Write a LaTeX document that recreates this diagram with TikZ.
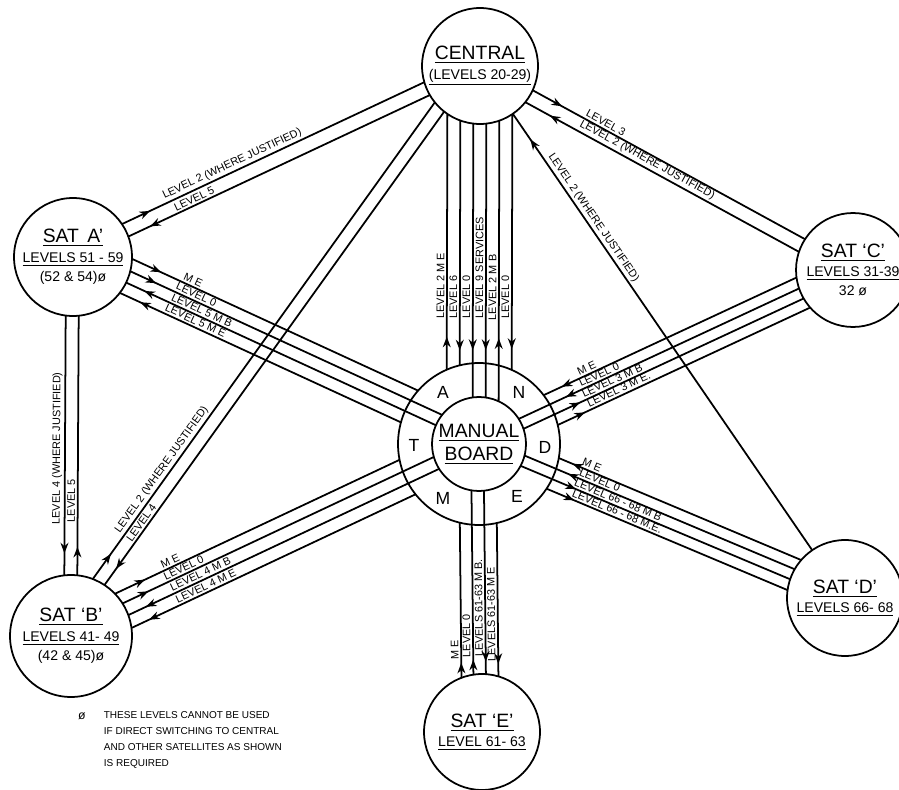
\documentclass[tikz,border=0pt]{standalone}
\usepackage{fontspec}
\setmainfont{Liberation Sans}
\usetikzlibrary{calc,arrows.meta,decorations.markings}

\newcommand{\labfont}{\fontsize{6.2}{7}\selectfont}
\newcommand{\namefont}{\fontsize{11}{13}\selectfont}
\newcommand{\levfont}{\fontsize{8}{11}\selectfont}

% parallel wire between two circles: [opts]{from}{r from}{to}{r to}{offset}{label}
\newcommand{\wire}[7][]{%
  \draw[#1] ($(#2)!{sqrt((#3)^2-(#6)^2)*0.02cm}!(#4)!{(#6)*0.02cm}!90:(#4)$)
    -- #7 ($(#4)!{sqrt((#5)^2-(#6)^2)*0.02cm}!(#2)!{-(#6)*0.02cm}!90:(#2)$);}

\tikzset{
  sat/.style={draw, circle, inner sep=0pt, align=center, font=\levfont},
  ring/.style={font=\fontsize{10}{12}\selectfont, inner sep=0pt},
}

\begin{document}
\begin{tikzpicture}[x=0.02cm, y=-0.02cm, line width=1pt,
  lab/.style={sloped, allow upside down, anchor=south west, inner sep=1pt, font=\labfont},
  fwd/.style={postaction={decorate, decoration={markings,
    mark=at position #1 with {\arrow{Stealth[length=6pt,width=4.5pt]}}}}},
  bwd/.style={postaction={decorate, decoration={markings,
    mark=at position #1 with {\arrowreversed{Stealth[length=6pt,width=4.5pt]}}}}}]
\fill[white] (0,0) rectangle (899,790);
\useasboundingbox (0,0) rectangle (899,790);

\node[sat, minimum size=2.32cm] (cen) at (480,66)
  {{\namefont\underline{CENTRAL}}\\\underline{(LEVELS 20-29)}};
\node[sat, minimum size=2.36cm] (sa) at (73,257)
  {{\namefont\underline{SAT\, A’}}\\\underline{LEVELS 51 - 59}\\(52 \& 54)ø};
\node[sat, minimum size=2.28cm] (sc) at (853,270)
  {{\namefont\underline{SAT ‘C’}}\\\underline{LEVELS 31-39}\\32 ø};
\node[sat, minimum size=2.44cm] (sb) at (71,636)
  {{\namefont\underline{SAT ‘B’}}\\\underline{LEVELS 41- 49}\\(42 \& 45)ø};
\node[sat, minimum size=2.32cm] (sd) at (845,598)
  {{\namefont\underline{SAT ‘D’}}\\\underline{LEVELS 66- 68}};
\node[sat, minimum size=2.32cm] (se) at (482,732)
  {{\namefont\underline{SAT ‘E’}}\\\underline{LEVEL 61- 63}};

\node[sat, minimum size=3.24cm] (mb) at (479,444) {};
\node[sat, minimum size=1.88cm] (mbin) at (mb) {};
\node[align=center, font=\namefont] (mbtxt) at (mb) {\underline{MANUAL}\\\underline{BOARD}};
\node[ring] (ra) at ($(mb)+(-36,-52)$) {A};
\node[ring] (rn) at ($(mb)+(40,-52)$) {N};
\node[ring] (rt) at ($(mb)+(-65,1)$) {T};
\node[ring] (rd) at ($(mb)+(66,3)$) {D};
\node[ring] (rm) at ($(mb)+(-36,54)$) {M};
\node[ring] (re) at ($(mb)+(38,52)$) {E};

% central to manual board
\wire[fwd=0.66cm]{mb}{81}{cen}{58}{32.5}{node[lab,pos=0.19]{LEVEL 2 M E}}
\wire[bwd=0.3cm]{mb}{81}{cen}{58}{19.5}{node[lab,pos=0.18]{LEVEL 6}}
\wire[bwd=0.95cm]{mbin}{47}{cen}{58}{6.5}{node[lab,pos=0.28]{LEVEL 0}}
\wire[bwd=0.95cm]{mbin}{47}{cen}{58}{-6.5}{node[lab,pos=0.28]{LEVEL 9 SERVICES}}
\wire[fwd=1.26cm]{mbin}{47}{cen}{58}{-19.5}{node[lab,pos=0.28]{LEVEL 2 M B}}
\wire[bwd=0.42cm]{mb}{81}{cen}{58}{-32.5}{node[lab,pos=0.19]{LEVEL 0}}

% central to satellites
\wire[fwd=0.62cm]{sa}{59}{cen}{58}{9}{node[lab,pos=0.14]{LEVEL 2 (WHERE JUSTIFIED)}}
\wire[bwd=0.48cm]{sa}{59}{cen}{58}{-5}{node[lab,pos=0.155]{LEVEL 5}}
\wire[fwd=0.67cm]{cen}{58}{sc}{57}{4}{node[lab,pos=0.18]{LEVEL 3}}
\wire[bwd=0.56cm]{cen}{58}{sc}{57}{-10}{node[lab,pos=0.18]{LEVEL 2 (WHERE JUSTIFIED)}}
\wire[bwd=0.62cm]{cen}{58}{sd}{58}{0}{node[lab,pos=0.1]{LEVEL 2 (WHERE JUSTIFIED)}}
\wire[fwd=0.62cm]{sb}{61}{cen}{58}{15.5}{node[lab,pos=0.086]{LEVEL 2 (WHERE JUSTIFIED)}}
\wire[bwd=0.4cm]{sb}{61}{cen}{58}{2.5}{node[lab,pos=0.082]{LEVEL 4}}

% sat A to sat B
\wire[bwd=0.44cm]{sb}{61}{sa}{59}{7}{node[lab,pos=0.186]{LEVEL 4 (WHERE JUSTIFIED)}}
\wire[fwd=0.57cm]{sb}{61}{sa}{59}{-6}{node[lab,pos=0.195]{LEVEL 5}}

% sat A to manual board
\wire[fwd=0.64cm]{sa}{59}{mb}{81}{23}{node[lab,pos=0.166]{M E}}
\wire[fwd=0.57cm]{sa}{59}{mbin}{47}{11}{node[lab,pos=0.133]{LEVEL 0}}
\wire[bwd=0.4cm]{sa}{59}{mbin}{47}{-1}{node[lab,pos=0.132]{LEVEL 5 M B}}
\wire[bwd=0.45cm]{sa}{59}{mb}{81}{-13}{node[lab,pos=0.146]{LEVEL 5 M E}}

% sat B to manual board
\wire[fwd=0.66cm]{sb}{61}{mb}{81}{19.5}{node[lab,pos=0.164]{M E}}
\wire[fwd=0.57cm]{sb}{61}{mbin}{47}{7.5}{node[lab,pos=0.135]{LEVEL 0}}
\wire[bwd=0.39cm]{sb}{61}{mbin}{47}{-5.5}{node[lab,pos=0.138]{LEVEL 4 M B}}
\wire[bwd=0.39cm]{sb}{61}{mb}{81}{-18.5}{node[lab,pos=0.159]{LEVEL 4 M E}}

% sat C to manual board
\wire[bwd=0.4cm]{mb}{81}{sc}{57}{17}{node[lab,pos=0.136]{M E}}
\wire[bwd=1.04cm]{mbin}{47}{sc}{57}{6}{node[lab,pos=0.218]{LEVEL 0}}
\wire[fwd=1.25cm]{mbin}{47}{sc}{57}{-5}{node[lab,pos=0.212]{LEVEL 3 M B}}
\wire[fwd=0.6cm]{mb}{81}{sc}{57}{-16}{node[lab,pos=0.12]{LEVEL 3 M E.}}

% sat D to manual board
\wire[bwd=0.3cm]{mb}{81}{sd}{58}{18}{node[lab,pos=0.08]{M E}}
\wire[bwd=0.95cm]{mbin}{47}{sd}{58}{7}{node[lab,pos=0.187]{LEVEL 0}}
\wire[fwd=1.2cm]{mbin}{47}{sd}{58}{-4}{node[lab,pos=0.184]{LEVEL 66 - 68 M B}}
\wire[fwd=0.6cm]{mb}{81}{sd}{58}{-15}{node[lab,pos=0.089]{LEVEL 66 - 68 M.E.}}

% sat E to manual board
\wire[fwd=0.3cm]{se}{58}{mb}{81}{20}{node[lab,pos=0.1]{M E}}
\wire[fwd=0.3cm]{se}{58}{mbin}{47}{8}{node[lab,pos=0.08]{LEVEL 0}}
\wire[bwd=0.25cm]{se}{58}{mbin}{47}{-4.5}{node[lab,pos=0.08]{LEVELS 61-63 M B.}}
\wire[bwd=0.25cm]{se}{58}{mb}{81}{-17}{node[lab,pos=0.08]{LEVELS 61-63 M E}}

% footnote
\node[font=\fontsize{7}{9}\selectfont] (fnmark) at (82,716) {ø};
\node[anchor=north west, align=left, inner sep=0pt, font=\fontsize{5.7}{9}\selectfont]
  (fntext) at (103,711) {THESE LEVELS CANNOT BE USED\\IF DIRECT SWITCHING TO CENTRAL\\
  AND OTHER SATELLITES AS SHOWN\\IS REQUIRED};
\end{tikzpicture}
\end{document}
